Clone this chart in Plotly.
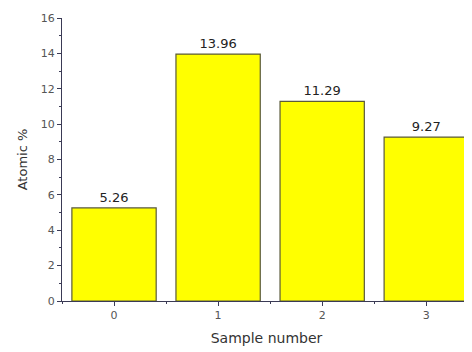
import plotly.graph_objects as go

samples = [0, 1, 2, 3]
atomic_pct = [5.26, 13.96, 11.29, 9.27]
labels = ["5.26", "13.96", "11.29", "9.27"]
y_ticks = [0, 2, 4, 6, 8, 10, 12, 14, 16]

FONT = "DejaVu Sans, Liberation Sans, Arial"

fig = go.Figure()
fig.add_trace(go.Bar(
    x=samples, y=atomic_pct, width=0.81,
    marker=dict(color="#FFFF00", line=dict(color="#5a5a3a", width=1.2)),
    text=labels, textposition="outside", cliponaxis=False,
    textfont=dict(family=FONT, size=13, color="#222222"),
))

axis_common = dict(
    showline=True, linecolor="#3a3a55", linewidth=1.3,
    ticks="outside", ticklen=4, tickcolor="#3a3a55", tickwidth=1,
    tickfont=dict(family=FONT, size=11, color="#555555"),
    showgrid=False, zeroline=False, mirror=False,
)

fig.update_xaxes(
    range=[-0.5, 3.43], tickvals=samples, ticktext=[str(s) for s in samples],
    title=dict(text="Sample number", font=dict(family=FONT, size=14, color="#333333"), standoff=11),
    minor=dict(ticks="outside", ticklen=2, tickcolor="#3a3a55", dtick=0.5, tick0=0.5),
    **axis_common,
)
fig.update_yaxes(
    range=[0, 16], tickvals=y_ticks,
    title=dict(text="Atomic %", font=dict(family=FONT, size=13, color="#333333"), standoff=10),
    minor=dict(ticks="outside", ticklen=2, tickcolor="#3a3a55", dtick=1),
    **axis_common,
)

fig.update_layout(
    width=464, height=344,
    margin=dict(l=54, r=1, t=10, b=51),
    plot_bgcolor="white", paper_bgcolor="white",
    showlegend=False, bargap=0.19,
)

fig.write_html("out.html")
